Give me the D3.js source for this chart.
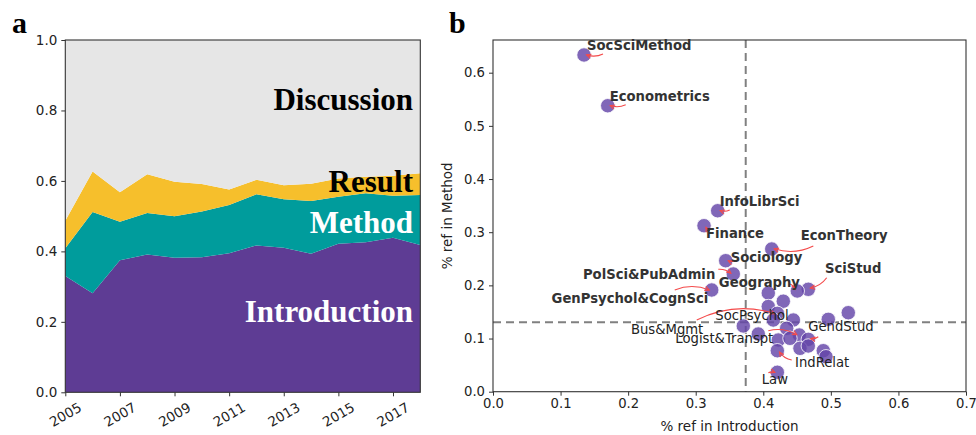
<!DOCTYPE html>
<html><head><meta charset="utf-8">
<script src="https://cdn.jsdelivr.net/npm/d3@7"></script>
<style>body{margin:0;background:#fff}svg{display:block}</style>
</head><body><svg id="c" width="976" height="435"></svg>
<script>
// ---------- Panel a data ----------
const years = [2005,2006,2007,2008,2009,2010,2011,2012,2013,2014,2015,2016,2017,2018];
const introduction = [0.330,0.281,0.375,0.391,0.382,0.383,0.395,0.417,0.410,0.393,0.422,0.426,0.439,0.418];
const method       = [0.079,0.231,0.109,0.118,0.118,0.130,0.137,0.145,0.138,0.150,0.133,0.139,0.119,0.142];
const result       = [0.078,0.115,0.084,0.110,0.098,0.078,0.044,0.041,0.040,0.049,0.052,0.047,0.057,0.062];
const discussion   = [0.513,0.373,0.432,0.381,0.402,0.409,0.424,0.397,0.412,0.408,0.393,0.388,0.385,0.378];
const sections = ["Introduction","Method","Result","Discussion"];
const yearTicks = [2005,2007,2009,2011,2013,2015,2017];
const shareTicks = [0,0.2,0.4,0.6,0.8,1.0];

// ---------- Panel b data ----------
const fields = ["SocSciMethod","Econometrics","InfoLibrSci","Finance","Sociology","PolSci&PubAdmin",
  "GenPsychol&CognSci","EconTheory","SciStud","Geography","","","","SocPsychol","","","","","Bus&Mgmt",
  "","","","Logist&Transpt","GendStud","","","","IndRelat","","","Law"];
const introRef  = [0.1347,0.1698,0.3325,0.3123,0.3444,0.3556,0.3237,0.4125,0.4666,0.4503,0.4074,0.4296,0.4074,
  0.4208,0.4148,0.4445,0.4962,0.5258,0.3704,0.3926,0.4346,0.4222,0.4533,0.4666,0.4395,0.4543,0.4666,0.4208,0.4888,0.4928,0.4208];
const methodRef = [0.6333,0.5379,0.3404,0.3122,0.2464,0.2214,0.1913,0.2684,0.1926,0.1894,0.1856,0.1702,0.1602,
  0.1474,0.1348,0.1348,0.1361,0.1486,0.1236,0.1085,0.1192,0.0972,0.1066,0.0985,0.1004,0.0816,0.0860,0.0771,0.0771,0.0658,0.0365];
const meanIntro = 0.374, meanMethod = 0.1305;
const xTicksB = [0,0.1,0.2,0.3,0.4,0.5,0.6,0.7];
const yTicksB = [0,0.1,0.2,0.3,0.4,0.5,0.6];

// label layout (pixel offsets from the point)
const labelLayout = {
  "SocSciMethod":      {bold:true, anchor:"start", dx:3,   dy:-5,  ax:19,  ay:-1},
  "Econometrics":      {bold:true, anchor:"start", dx:2,   dy:-5,  ax:18,  ay:-1},
  "InfoLibrSci":       {bold:true, anchor:"start", dx:2,   dy:-5,  ax:12,  ay:-0.7},
  "Finance":           {bold:true, anchor:"start", dx:2,   dy:12.6,ax:6,   ay:5},
  "Sociology":         {bold:true, anchor:"start", dx:5,   dy:1.6, ax:8,   ay:0.5},
  "PolSci&PubAdmin":   {bold:true, anchor:"end",   dx:-18, dy:5.3, ax:-15, ay:-4.7},
  "GenPsychol&CognSci":{bold:true, anchor:"end",   dx:-3.4,dy:12.7,ax:-37, ay:0},
  "EconTheory":        {bold:true, anchor:"start", dx:29,  dy:-9,  ax:41.6,ay:-3},
  "SciStud":           {bold:true, anchor:"start", dx:16.7,dy:-16, ax:18.4,ay:-11.6},
  "Geography":         {bold:true, anchor:"end",   dx:2.7, dy:-3.7,ax:-7,  ay:-7},
  "SocPsychol":        {bold:false,anchor:"start", dx:-62, dy:6.7, ax:-80.6,ay:6.7},
  "Bus&Mgmt":          {bold:false,anchor:"end",   dx:-40, dy:8,   ax:null,ay:null},
  "Logist&Transpt":    {bold:false,anchor:"end",   dx:-26, dy:8.3, ax:-31, ay:-4.3},
  "GendStud":          {bold:false,anchor:"start", dx:0,   dy:-8.6,ax:10,  ay:-2.6},
  "IndRelat":          {bold:false,anchor:"start", dx:17.7,dy:16,  ax:14.4,ay:9.3},
  "Law":               {bold:false,anchor:"start", dx:-15.6,dy:11.7,ax:-9, ay:0.4}
};

const svg = d3.select("#c");
const sans = "'DejaVu Sans', sans-serif";
const serif = "'Liberation Serif', 'Times New Roman', serif";
const tickCol = "#222";

// ================= Panel a =================
(function(){
  const L=65.3, R=420.3, T=40, B=392.3;
  const x = d3.scaleLinear().domain([2005,2018]).range([L,R]);
  const y = d3.scaleLinear().domain([0,1]).range([B,T]);
  const rows = years.map((yr,i)=>({year:yr, Introduction:introduction[i], Method:method[i], Result:result[i], Discussion:discussion[i]}));
  const stack = d3.stack().keys(sections)(rows);
  const colors = {Introduction:"#5e3c94", Method:"#009c9c", Result:"#f6bf2c", Discussion:"#e6e6e6"};
  const area = d3.area().x(d=>x(d.data.year)).y0(d=>y(d[0])).y1(d=>y(d[1]));
  const g = svg.append("g");
  g.selectAll("path.layer").data(stack).join("path")
    .attr("d", area).attr("fill", d=>colors[d.key]);
  g.append("rect").attr("x",L).attr("y",T).attr("width",R-L).attr("height",B-T)
    .attr("fill","none").attr("stroke","#333").attr("stroke-width",1.1);
  // y axis
  const ya = g.append("g").attr("transform",`translate(${L},0)`)
    .call(d3.axisLeft(y).tickValues(shareTicks).tickFormat(d3.format(".1f")).tickSize(4).tickPadding(4));
  ya.select(".domain").remove();
  ya.selectAll("line").attr("stroke","#333");
  ya.selectAll("text").attr("font-family",sans).attr("font-size",13.5).attr("fill",tickCol);
  // x axis
  const xa = g.append("g").attr("transform",`translate(0,${B})`)
    .call(d3.axisBottom(x).tickValues(yearTicks).tickFormat(d3.format("d")).tickSize(4));
  xa.select(".domain").remove();
  xa.selectAll("line").attr("stroke","#333");
  xa.selectAll("text").attr("font-family",sans).attr("font-size",13.5).attr("fill",tickCol)
    .attr("text-anchor","middle").attr("dy",null).attr("y",null)
    .attr("transform","translate(0,23) rotate(-30)").attr("dominant-baseline","middle");
  // section labels
  const lab = [["Discussion",110,"#000"],["Result",192,"#000"],["Method",233,"#fff"],["Introduction",322,"#fff"]];
  lab.forEach(([t,yy,c])=>{
    g.append("text").attr("x",413).attr("y",yy).attr("text-anchor","end")
      .attr("font-family",serif).attr("font-weight","bold").attr("font-size",31).attr("fill",c).text(t);
  });
  svg.append("text").attr("x",12).attr("y",33).attr("font-family",serif).attr("font-weight","bold")
    .attr("font-size",30).attr("fill","#000").text("a");
})();

// ================= Panel b =================
(function(){
  const L=493, R=966, T=40, B=391.7;
  const x = d3.scaleLinear().domain([0,0.7]).range([L,R]);
  const y = d3.scaleLinear().domain([0,0.6]).range([B,72.7]);
  const g = svg.append("g");
  // mean lines
  g.append("line").attr("x1",x(meanIntro)).attr("x2",x(meanIntro)).attr("y1",T).attr("y2",B)
    .attr("stroke","#808080").attr("stroke-width",2).attr("stroke-dasharray","8,5");
  g.append("line").attr("x1",L).attr("x2",R).attr("y1",y(meanMethod)).attr("y2",y(meanMethod))
    .attr("stroke","#808080").attr("stroke-width",2).attr("stroke-dasharray","8,5");
  // points
  const pts = fields.map((f,i)=>({name:f, px:x(introRef[i]), py:y(methodRef[i])}));
  g.selectAll("circle").data(pts).join("circle")
    .attr("cx",d=>d.px).attr("cy",d=>d.py).attr("r",7.2)
    .attr("fill","#6445a8").attr("fill-opacity",0.82)
    .attr("stroke","#fff").attr("stroke-opacity",0.8).attr("stroke-width",1);
  // arrows
  const arrCol = "#f44a4a";
  pts.forEach(p=>{
    const lay = labelLayout[p.name];
    if(!lay || lay.ax===null) return;
    const x1=p.px+lay.ax, y1=p.py+lay.ay;
    let dxv=p.px-x1, dyv=p.py-y1; const len=Math.hypot(dxv,dyv);
    const ux=dxv/len, uy=dyv/len;
    const x2=p.px-ux*2.5, y2=p.py-uy*2.5;
    const rad=-0.2;
    const cx=(x1+x2)/2 + rad*(-(y2-y1)), cy=(y1+y2)/2 + rad*(x2-x1);
    g.append("path").attr("d",`M${x1},${y1}Q${cx},${cy} ${x2},${y2}`)
      .attr("fill","none").attr("stroke",arrCol).attr("stroke-width",1.1);
    let tx=x2-cx, ty=y2-cy; const tl=Math.hypot(tx,ty)||1; tx/=tl; ty/=tl;
    const hl=5, a=0.45;
    const h1=[x2-hl*(tx*Math.cos(a)-ty*Math.sin(a)), y2-hl*(ty*Math.cos(a)+tx*Math.sin(a))];
    const h2=[x2-hl*(tx*Math.cos(-a)-ty*Math.sin(-a)), y2-hl*(ty*Math.cos(-a)+tx*Math.sin(-a))];
    g.append("path").attr("d",`M${h1[0]},${h1[1]}L${x2},${y2}L${h2[0]},${h2[1]}`)
      .attr("fill","none").attr("stroke",arrCol).attr("stroke-width",1.1);
  });
  // labels
  pts.forEach(p=>{
    const lay = labelLayout[p.name];
    if(!lay) return;
    g.append("text").attr("x",p.px+lay.dx).attr("y",p.py+lay.dy).attr("text-anchor",lay.anchor)
      .attr("font-family",sans).attr("font-size",13.2)
      .attr("font-weight",lay.bold?"bold":"normal").attr("fill",lay.bold?"#333":"#222").text(p.name);
  });
  // frame
  g.append("rect").attr("x",L).attr("y",T).attr("width",R-L).attr("height",B-T)
    .attr("fill","none").attr("stroke","#333").attr("stroke-width",1.1);
  const xa = g.append("g").attr("transform",`translate(0,${B})`)
    .call(d3.axisBottom(x).tickValues(xTicksB).tickFormat(d3.format(".1f")).tickSize(4).tickPadding(3));
  xa.select(".domain").remove();
  xa.selectAll("line").attr("stroke","#333");
  xa.selectAll("text").attr("font-family",sans).attr("font-size",13.2).attr("fill",tickCol);
  const ya = g.append("g").attr("transform",`translate(${L},0)`)
    .call(d3.axisLeft(y).tickValues(yTicksB).tickFormat(d3.format(".1f")).tickSize(4).tickPadding(4));
  ya.select(".domain").remove();
  ya.selectAll("line").attr("stroke","#333");
  ya.selectAll("text").attr("font-family",sans).attr("font-size",13.2).attr("fill",tickCol);
  g.append("text").attr("x",(L+R)/2).attr("y",431).attr("text-anchor","middle")
    .attr("font-family",sans).attr("font-size",13.5).attr("fill",tickCol).text("% ref in Introduction");
  g.append("text").attr("transform",`translate(452,${(T+B)/2}) rotate(-90)`).attr("text-anchor","middle")
    .attr("font-family",sans).attr("font-size",13.5).attr("fill",tickCol).text("% ref in Method");
  svg.append("text").attr("x",449).attr("y",33).attr("font-family",serif).attr("font-weight","bold")
    .attr("font-size",30).attr("fill","#000").text("b");
})();
</script></body></html>
